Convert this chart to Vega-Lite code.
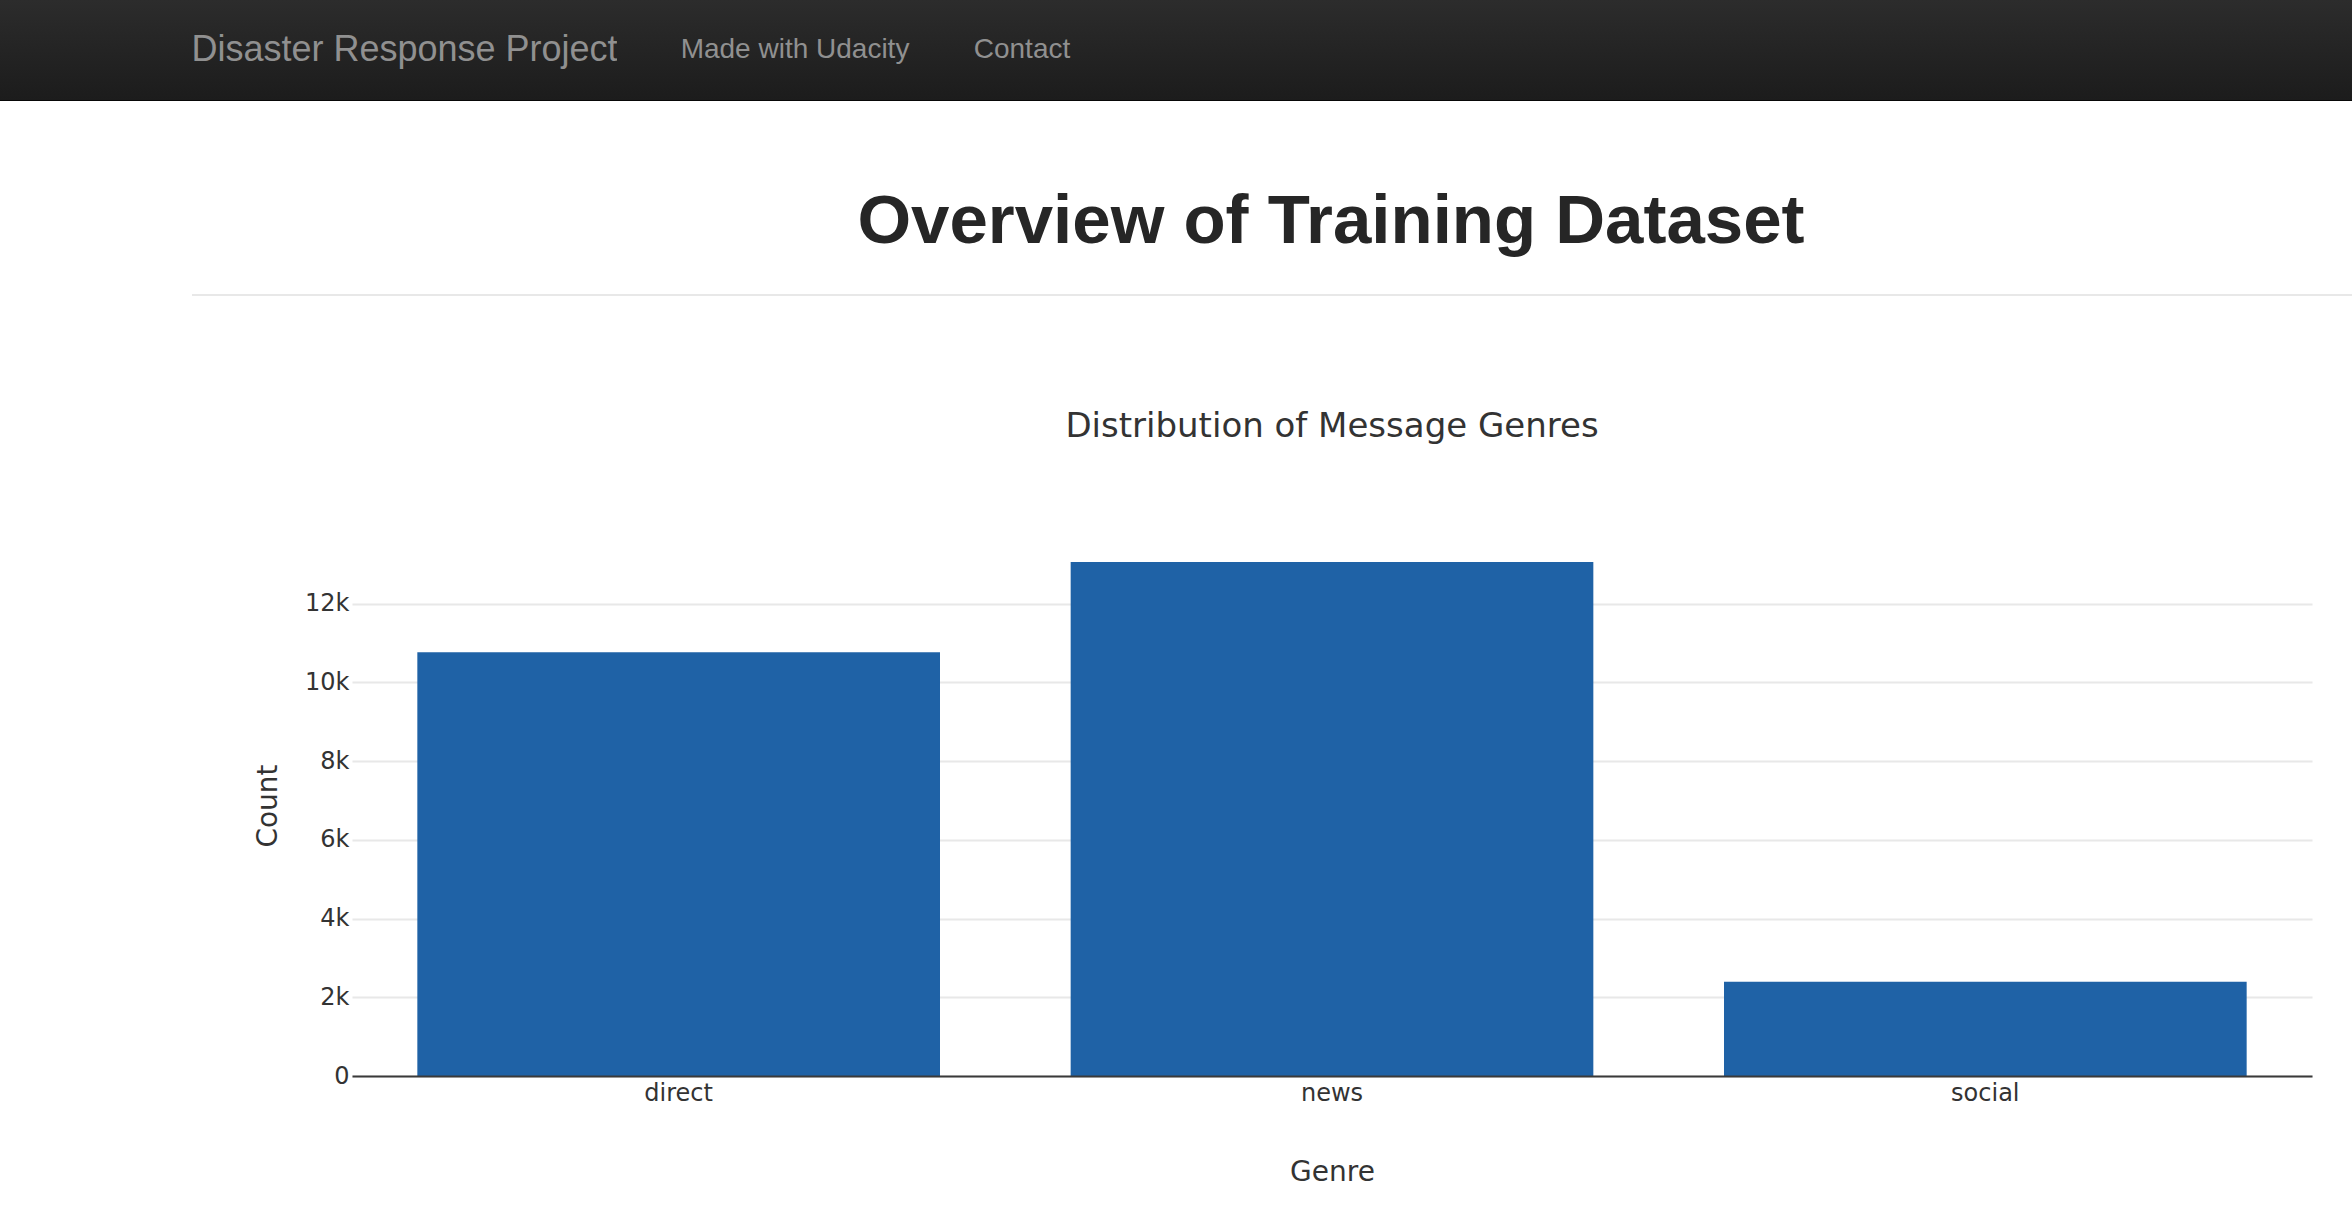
{
  "$schema": "https://vega.github.io/schema/vega-lite/v6.json",
  "background": "white",
  "padding": 0,
  "autosize": {"type": "pad"},
  "spacing": 0,
  "bounds": "full",
  "config": {"view": {"stroke": null}},
  "vconcat": [
    {
      "spacing": 0,
      "bounds": "flush",
      "hconcat": [
        {"width": 192, "height": 100, "view": {"stroke": null, "fill": {"gradient": "linear", "x1": 0, "y1": 0, "x2": 0, "y2": 1, "stops": [{"offset": 0, "color": "#2c2c2c"}, {"offset": 1, "color": "#1c1c1c"}]}}, "data": {"values": []}, "mark": "text", "encoding": {}},
        {"width": 425, "height": 100, "view": {"stroke": null, "fill": {"gradient": "linear", "x1": 0, "y1": 0, "x2": 0, "y2": 1, "stops": [{"offset": 0, "color": "#2c2c2c"}, {"offset": 1, "color": "#1c1c1c"}]}}, "data": {"values": [{"item": "Disaster Response Project"}]}, "mark": {"type": "text", "font": "Liberation Sans", "fontSize": 36, "color": "#909090", "align": "center", "baseline": "middle"}, "encoding": {"text": {"field": "item"}}},
        {"width": 61, "height": 100, "view": {"stroke": null, "fill": {"gradient": "linear", "x1": 0, "y1": 0, "x2": 0, "y2": 1, "stops": [{"offset": 0, "color": "#2c2c2c"}, {"offset": 1, "color": "#1c1c1c"}]}}, "data": {"values": []}, "mark": "text", "encoding": {}},
        {"width": 234, "height": 100, "view": {"stroke": null, "fill": {"gradient": "linear", "x1": 0, "y1": 0, "x2": 0, "y2": 1, "stops": [{"offset": 0, "color": "#2c2c2c"}, {"offset": 1, "color": "#1c1c1c"}]}}, "data": {"values": [{"item": "Made with Udacity"}]}, "mark": {"type": "text", "font": "Liberation Sans", "fontSize": 28, "color": "#909090", "align": "center", "baseline": "middle"}, "encoding": {"text": {"field": "item"}}},
        {"width": 60, "height": 100, "view": {"stroke": null, "fill": {"gradient": "linear", "x1": 0, "y1": 0, "x2": 0, "y2": 1, "stops": [{"offset": 0, "color": "#2c2c2c"}, {"offset": 1, "color": "#1c1c1c"}]}}, "data": {"values": []}, "mark": "text", "encoding": {}},
        {"width": 100, "height": 100, "view": {"stroke": null, "fill": {"gradient": "linear", "x1": 0, "y1": 0, "x2": 0, "y2": 1, "stops": [{"offset": 0, "color": "#2c2c2c"}, {"offset": 1, "color": "#1c1c1c"}]}}, "data": {"values": [{"item": "Contact"}]}, "mark": {"type": "text", "font": "Liberation Sans", "fontSize": 28, "color": "#909090", "align": "center", "baseline": "middle"}, "encoding": {"text": {"field": "item"}}},
        {"width": 1280, "height": 100, "view": {"stroke": null, "fill": {"gradient": "linear", "x1": 0, "y1": 0, "x2": 0, "y2": 1, "stops": [{"offset": 0, "color": "#2c2c2c"}, {"offset": 1, "color": "#1c1c1c"}]}}, "data": {"values": []}, "mark": "text", "encoding": {}}
      ]
    },
    {"width": 2352, "height": 1, "view": {"stroke": null, "fill": "#080808"}, "data": {"values": []}, "mark": "text", "encoding": {}},
    {"width": 1, "height": 49, "data": {"values": []}, "mark": "text", "encoding": {}},
    {
      "spacing": 0,
      "bounds": "flush",
      "hconcat": [
        {"width": 310, "height": 144, "data": {"values": []}, "mark": "text", "encoding": {}},
        {"width": 2042, "height": 144, "data": {"values": [{"heading": "Overview of Training Dataset"}]}, "mark": {"type": "text", "font": "Liberation Sans", "fontSize": 69, "fontWeight": "bold", "color": "#262626", "align": "center", "baseline": "middle"}, "encoding": {"text": {"field": "heading"}}}
      ]
    },
    {
      "spacing": 0,
      "bounds": "flush",
      "hconcat": [
        {"width": 192, "height": 2, "data": {"values": []}, "mark": "text", "encoding": {}},
        {"width": 2160, "height": 2, "view": {"stroke": null, "fill": "#e8e8e8"}, "data": {"values": []}, "mark": "text", "encoding": {}}
      ]
    },
    {"width": 1, "height": 84, "data": {"values": []}, "mark": "text", "encoding": {}},
    {
      "spacing": 0,
      "bounds": "flush",
      "hconcat": [
        {"width": 352, "height": 94, "data": {"values": []}, "mark": "text", "encoding": {}},
        {"width": 1960, "height": 94, "data": {"values": [{"heading": "Distribution of Message Genres"}]}, "mark": {"type": "text", "font": "DejaVu Sans", "fontSize": 34, "color": "#333333", "align": "center", "baseline": "middle"}, "encoding": {"text": {"field": "heading"}}}
      ]
    },
    {"width": 1, "height": 61, "data": {"values": []}, "mark": "text", "encoding": {}},
    {
      "spacing": 0,
      "bounds": "flush",
      "hconcat": [
        {"width": 352, "height": 541, "data": {"values": []}, "mark": "text", "encoding": {}},
        {
          "width": 1960,
          "height": 541,
          "data": {"values": [
            {"genre": "direct", "count": 10766},
            {"genre": "news", "count": 13054},
            {"genre": "social", "count": 2396}
          ]},
          "mark": {"type": "bar", "color": "#1f62a6"},
          "encoding": {
            "x": {
              "field": "genre", "type": "nominal", "sort": null,
              "scale": {"paddingInner": 0.2, "paddingOuter": 0.1},
              "axis": {
                "title": "Genre", "labelAngle": 0, "ticks": false, "tickSize": 0, "labelPadding": 5, "titlePadding": 53,
                "labelFont": "DejaVu Sans", "labelFontSize": 24, "labelColor": "#333333",
                "titleFont": "DejaVu Sans", "titleFontSize": 28, "titleFontWeight": "normal", "titleColor": "#333333",
                "domainColor": "#3a3a3a", "domainWidth": 2, "grid": false, "zindex": 1
              }
            },
            "y": {
              "field": "count", "type": "quantitative",
              "scale": {"domain": [0, 13741], "nice": false},
              "axis": {
                "title": "Count", "values": [0, 2000, 4000, 6000, 8000, 10000, 12000],
                "labelExpr": "datum.value === 0 ? '0' : format(datum.value, '~s')",
                "domain": false, "ticks": false, "tickSize": 0, "labelPadding": 3, "titlePadding": 22,
                "labelFont": "DejaVu Sans", "labelFontSize": 24, "labelColor": "#333333",
                "titleFont": "DejaVu Sans", "titleFontSize": 28, "titleFontWeight": "normal", "titleColor": "#333333",
                "grid": true, "gridColor": "#e8e8e8", "gridWidth": 2
              }
            }
          }
        }
      ]
    }
  ]
}
